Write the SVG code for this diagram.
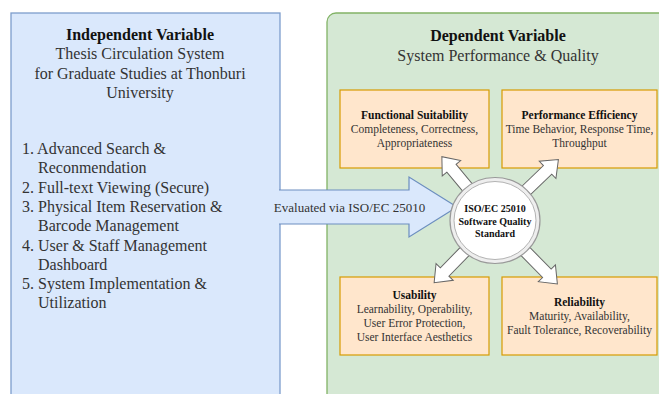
<svg xmlns="http://www.w3.org/2000/svg" width="659" height="394" viewBox="0 0 659 394">
<style>
text{font-family:"Liberation Serif","Times New Roman",serif;fill:#222}
.h{font-size:16px;font-weight:bold;fill:#111}
.s{font-size:16px;fill:#333}
.l{font-size:16px;fill:#333}
.bt{font-size:11.5px;font-weight:bold;fill:#111}
.bs{font-size:11.5px;fill:#333}
.c{font-size:10px;font-weight:bold;fill:#111}
.m{text-anchor:middle}
.ob{fill:#ffe6cc;stroke:#d79b00;stroke-width:1.2}
.wa{fill:#ffffff;stroke:#666666;stroke-width:1}
</style>
<rect width="659" height="394" fill="#ffffff"/>
<g id="independent">
<rect x="11" y="13" width="269" height="400" fill="#dae8fc" stroke="#7d9dcc" stroke-width="1.3"/>
<text class="h m" x="140" y="39.5">Independent Variable</text>
<text class="s m" x="140" y="59">Thesis Circulation System</text>
<text class="s m" x="140" y="78.5">for Graduate Studies at Thonburi</text>
<text class="s m" x="140" y="98">University</text>
<text class="l" x="22" y="154">1. Advanced Search &amp;</text>
<text class="l" x="38" y="173.3">Reconmendation</text>
<text class="l" x="22" y="192.6">2. Full-text Viewing (Secure)</text>
<text class="l" x="22" y="211.9">3. Physical Item Reservation &amp;</text>
<text class="l" x="38" y="231.2">Barcode Management</text>
<text class="l" x="22" y="250.5">4. User &amp; Staff Management</text>
<text class="l" x="38" y="269.8">Dashboard</text>
<text class="l" x="22" y="289.1">5. System Implementation &amp;</text>
<text class="l" x="38" y="308.4">Utilization</text>
</g>
<g id="dependent">
<rect x="327" y="13" width="360" height="400" rx="9" fill="#d5e8d4" stroke="#82b366" stroke-width="1.3"/>
<text class="h m" x="498" y="41">Dependent Variable</text>
<text class="s m" x="498" y="60.5">System Performance &amp; Quality</text>
</g>
<g id="functional">
<rect class="ob" x="340" y="90" width="149" height="78"/>
<text class="bt m" x="414.5" y="119">Functional Suitability</text>
<text class="bs m" x="414.5" y="133">Completeness, Correctness,</text>
<text class="bs m" x="414.5" y="147">Appropriateness</text>
</g>
<g id="performance">
<rect class="ob" x="502" y="90" width="155" height="78"/>
<text class="bt m" x="579.5" y="119">Performance Efficiency</text>
<text class="bs m" x="579.5" y="133">Time Behavior, Response Time,</text>
<text class="bs m" x="579.5" y="147">Throughput</text>
</g>
<g id="usability">
<rect class="ob" x="340" y="277" width="149" height="78"/>
<text class="bt m" x="414.5" y="299">Usability</text>
<text class="bs m" x="414.5" y="313">Learnability, Operability,</text>
<text class="bs m" x="414.5" y="327">User Error Protection,</text>
<text class="bs m" x="414.5" y="341">User Interface Aesthetics</text>
</g>
<g id="reliability">
<rect class="ob" x="502" y="277" width="155" height="78"/>
<text class="bt m" x="579.5" y="306">Reliability</text>
<text class="bs m" x="579.5" y="320">Maturity, Availability,</text>
<text class="bs m" x="579.5" y="334">Fault Tolerance, Recoverability</text>
</g>
<g id="connectors">
<path class="wa" transform="translate(495,220.5) rotate(-129.8)" d="M28,-6 H68 V-12 L83,0 L68,12 V6 H28 Z"/>
<path class="wa" transform="translate(495,220.5) rotate(-43.9)" d="M28,-6 H73 V-12 L88,0 L73,12 V6 H28 Z"/>
<path class="wa" transform="translate(495,220.5) rotate(134.4)" d="M28,-6 H72 V-12 L87,0 L72,12 V6 H28 Z"/>
<path class="wa" transform="translate(495,220.5) rotate(45.5)" d="M28,-6 H74 V-12 L89,0 L74,12 V6 H28 Z"/>
<path d="M279,190 L409,190 L409,177 L457,207 L409,237 L409,224 L279,224" fill="#dae8fc" stroke="#6c8ebf" stroke-width="1.2"/>
<text x="349.5" y="212" class="m" style="font-size:13px;fill:#333">Evaluated via ISO/EC 25010</text>
</g>
<g id="standard">
<ellipse cx="495" cy="220.5" rx="45" ry="43" fill="#eeeeee" stroke="#999999" stroke-width="1.2"/>
<ellipse cx="495" cy="220.5" rx="41" ry="39" fill="#ffffff" stroke="#b3b3b3" stroke-width="1"/>
<text class="c m" x="495" y="212">ISO/EC 25010</text>
<text class="c m" x="495" y="224.5">Software Quality</text>
<text class="c m" x="495" y="237">Standard</text>
</g>
</svg>
